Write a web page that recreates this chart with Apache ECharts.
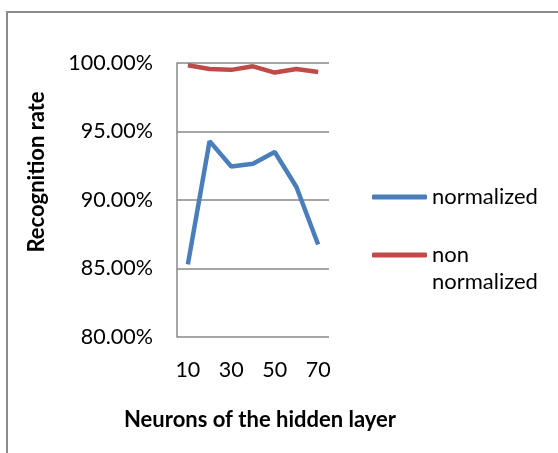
<!DOCTYPE html>
<html>
<head>
<meta charset="utf-8">
<script src="https://cdn.jsdelivr.net/npm/echarts@6/dist/echarts.min.js"></script>
<style>
  html, body { margin: 0; padding: 0; background: #fff; }
  #chart { width: 558px; height: 453px; }
</style>
</head>
<body>
<div id="chart"></div>
<script>
// neurons in the hidden layer
var neurons = ['10', '20', '30', '40', '50', '60', '70'];
// recognition rate (%)
var normalized = [85.3, 94.3, 92.45, 92.65, 93.5, 90.95, 86.75];
var nonNormalized = [99.83, 99.56, 99.5, 99.76, 99.3, 99.56, 99.34];
var yTicks = { min: 80, max: 100, step: 5 };

var fontName = 'Lato';
var myChart = echarts.init(document.getElementById('chart'));

var option = {
	animation: false,
	backgroundColor: '#fff',
	grid: {
		left: 177,
		right: 229,
		top: 63,
		bottom: 116
	},
	legend: {
		orient: 'vertical',
		left: 372,
		top: 183.5,
		padding: 0,
		itemWidth: 55,
		itemHeight: 5,
		itemGap: 4,
		icon: 'roundRect',
		textStyle: {
			fontFamily: fontName,
			fontSize: 22,
			color: '#000',
			lineHeight: 27
		},
		data: ['normalized', 'non normalized'],
		formatter: function (name) {
			return name == 'non normalized' ? ' \nnon\nnormalized' : name;
		}
	},
	xAxis: {
		type: 'category',
		data: neurons,
		boundaryGap: true,
		axisLine: { show: false },
		axisTick: { show: false },
		axisLabel: {
			interval: 1,
			margin: 22,
			fontFamily: fontName,
			fontSize: 21.5,
			color: '#000'
		}
	},
	yAxis: {
		type: 'value',
		min: yTicks.min,
		max: yTicks.max,
		interval: yTicks.step,
		axisLine: { show: true, lineStyle: { color: '#888', width: 1.5 } },
		axisTick: { show: false },
		splitLine: { lineStyle: { color: '#888', width: 1.5 } },
		axisLabel: {
			margin: 24,
			fontFamily: fontName,
			fontSize: 21.5,
			color: '#000',
			formatter: function (v) { return v.toFixed(2) + '%'; }
		}
	},
	graphic: [
		{
			type: 'rect',
			shape: { x: 7, y: 12, width: 600, height: 500 },
			style: { fill: null, stroke: '#8c8c8c', lineWidth: 2 },
			z: -1
		},
		{
			type: 'text',
			x: 37,
			y: 172,
			rotation: Math.PI / 2,
			style: {
				text: 'Recognition rate',
				fontFamily: fontName,
				fontWeight: 'bold',
				fontSize: 22,
				fill: '#000',
				align: 'center',
				verticalAlign: 'middle'
			}
		},
		{
			type: 'text',
			x: 260,
			y: 420,
			style: {
				text: 'Neurons of the hidden layer',
				fontFamily: fontName,
				fontWeight: 'bold',
				fontSize: 22,
				fill: '#000',
				align: 'center',
				verticalAlign: 'middle'
			}
		}
	],
	series: [
		{
			name: 'normalized',
			type: 'line',
			data: normalized,
			symbol: 'none',
			lineStyle: { color: '#4a7ebb', width: 4.5 },
			itemStyle: { color: '#4a7ebb' }
		},
		{
			name: 'non normalized',
			type: 'line',
			data: nonNormalized,
			symbol: 'none',
			lineStyle: { color: '#be4b48', width: 4.5 },
			itemStyle: { color: '#be4b48' }
		}
	]
};

myChart.setOption(option);
</script>
</body>
</html>
